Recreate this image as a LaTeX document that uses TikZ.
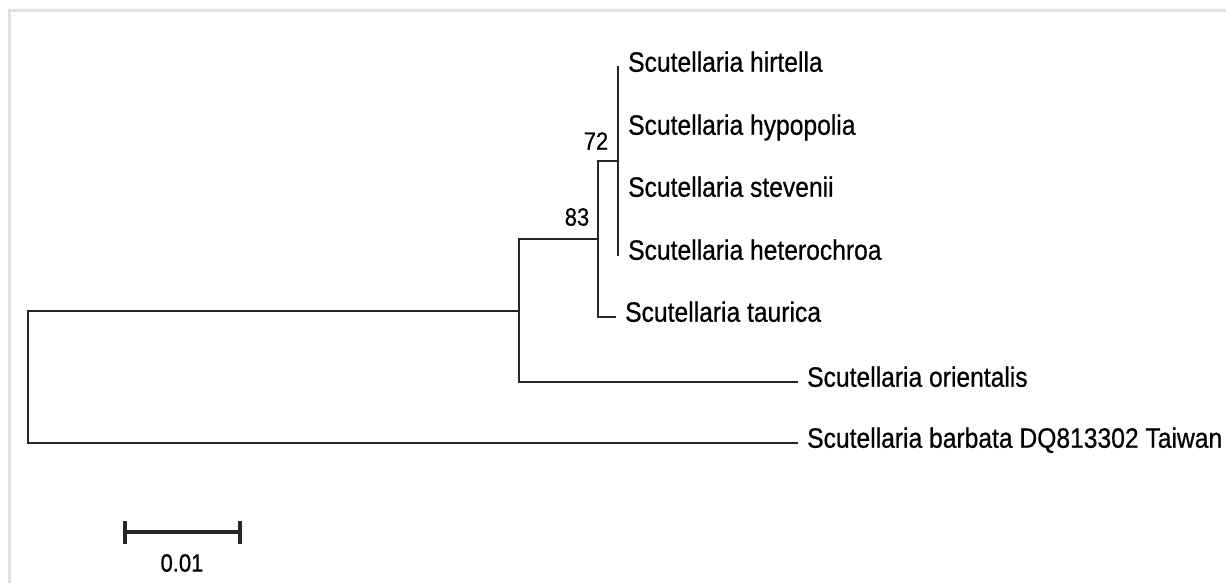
\documentclass[tikz,border=0pt]{standalone}
\usepackage{fontspec}
\setmainfont{Liberation Sans}[FakeStretch=0.88, FakeBold=0.6]
\tikzset{
  treeline/.style={draw=black!85, line width=2.8bp, line cap=rect},
  taxon/.style={anchor=west, inner xsep=10bp, inner ysep=0pt,
                text height=0.95em, text depth=0pt,
                font=\fontsize{28bp}{32bp}\selectfont},
  bootval/.style={inner sep=0pt, font=\fontsize{25bp}{28bp}\selectfont},
  scalebar/.style={draw=black!85, line width=3.2bp},
  framebar/.style={draw=black!12, line width=3bp},
}
\begin{document}
\begin{tikzpicture}[x=1bp, y=-1bp]
  \useasboundingbox (0,0) rectangle (1226,583);
  \draw[framebar] (9.5,583) -- (9.5,11) -- (1226,11);

  \coordinate (root) at (28,377);
  \coordinate (nOri) at (519,311);
  \coordinate (n83) at (598,239);
  \coordinate (n72) at (618,161);

  \node[taxon] (hirtella) at (618,67) {Scutellaria hirtella};
  \node[taxon] (hypopolia) at (618,130) {Scutellaria hypopolia};
  \node[taxon] (stevenii) at (618,192) {Scutellaria stevenii};
  \node[taxon] (heterochroa) at (618,255) {Scutellaria heterochroa};
  \node[taxon] (taurica) at (615,317) {Scutellaria taurica};
  \node[taxon] (orientalis) at (797,382) {Scutellaria orientalis};
  \node[taxon] (barbata) at (797,443) {Scutellaria barbata DQ813302 Taiwan};

  \draw[treeline] (root) |- (nOri);
  \draw[treeline] (root) |- (barbata.west);
  \draw[treeline] (nOri) |- (n83);
  \draw[treeline] (nOri) |- (orientalis.west);
  \draw[treeline] (n83) |- (n72);
  \draw[treeline] (n83) |- (taurica.west);
  \draw[treeline] (n72) |- (hirtella.west);
  \draw[treeline] (n72) |- (heterochroa.west);

  \node[bootval] (b72) at (596,141) {72};
  \node[bootval] (b83) at (577,217) {83};

  \coordinate (sbl) at (125,532);
  \coordinate (sbr) at (240,532);
  \draw[scalebar] (sbl) -- (sbr);
  \draw[scalebar] ([yshift=-11.5bp]sbl) -- ([yshift=11.5bp]sbl);
  \draw[scalebar] ([yshift=-11.5bp]sbr) -- ([yshift=11.5bp]sbr);
  \node[bootval] (sbtext) at (182,563) {0.01};
\end{tikzpicture}
\end{document}
